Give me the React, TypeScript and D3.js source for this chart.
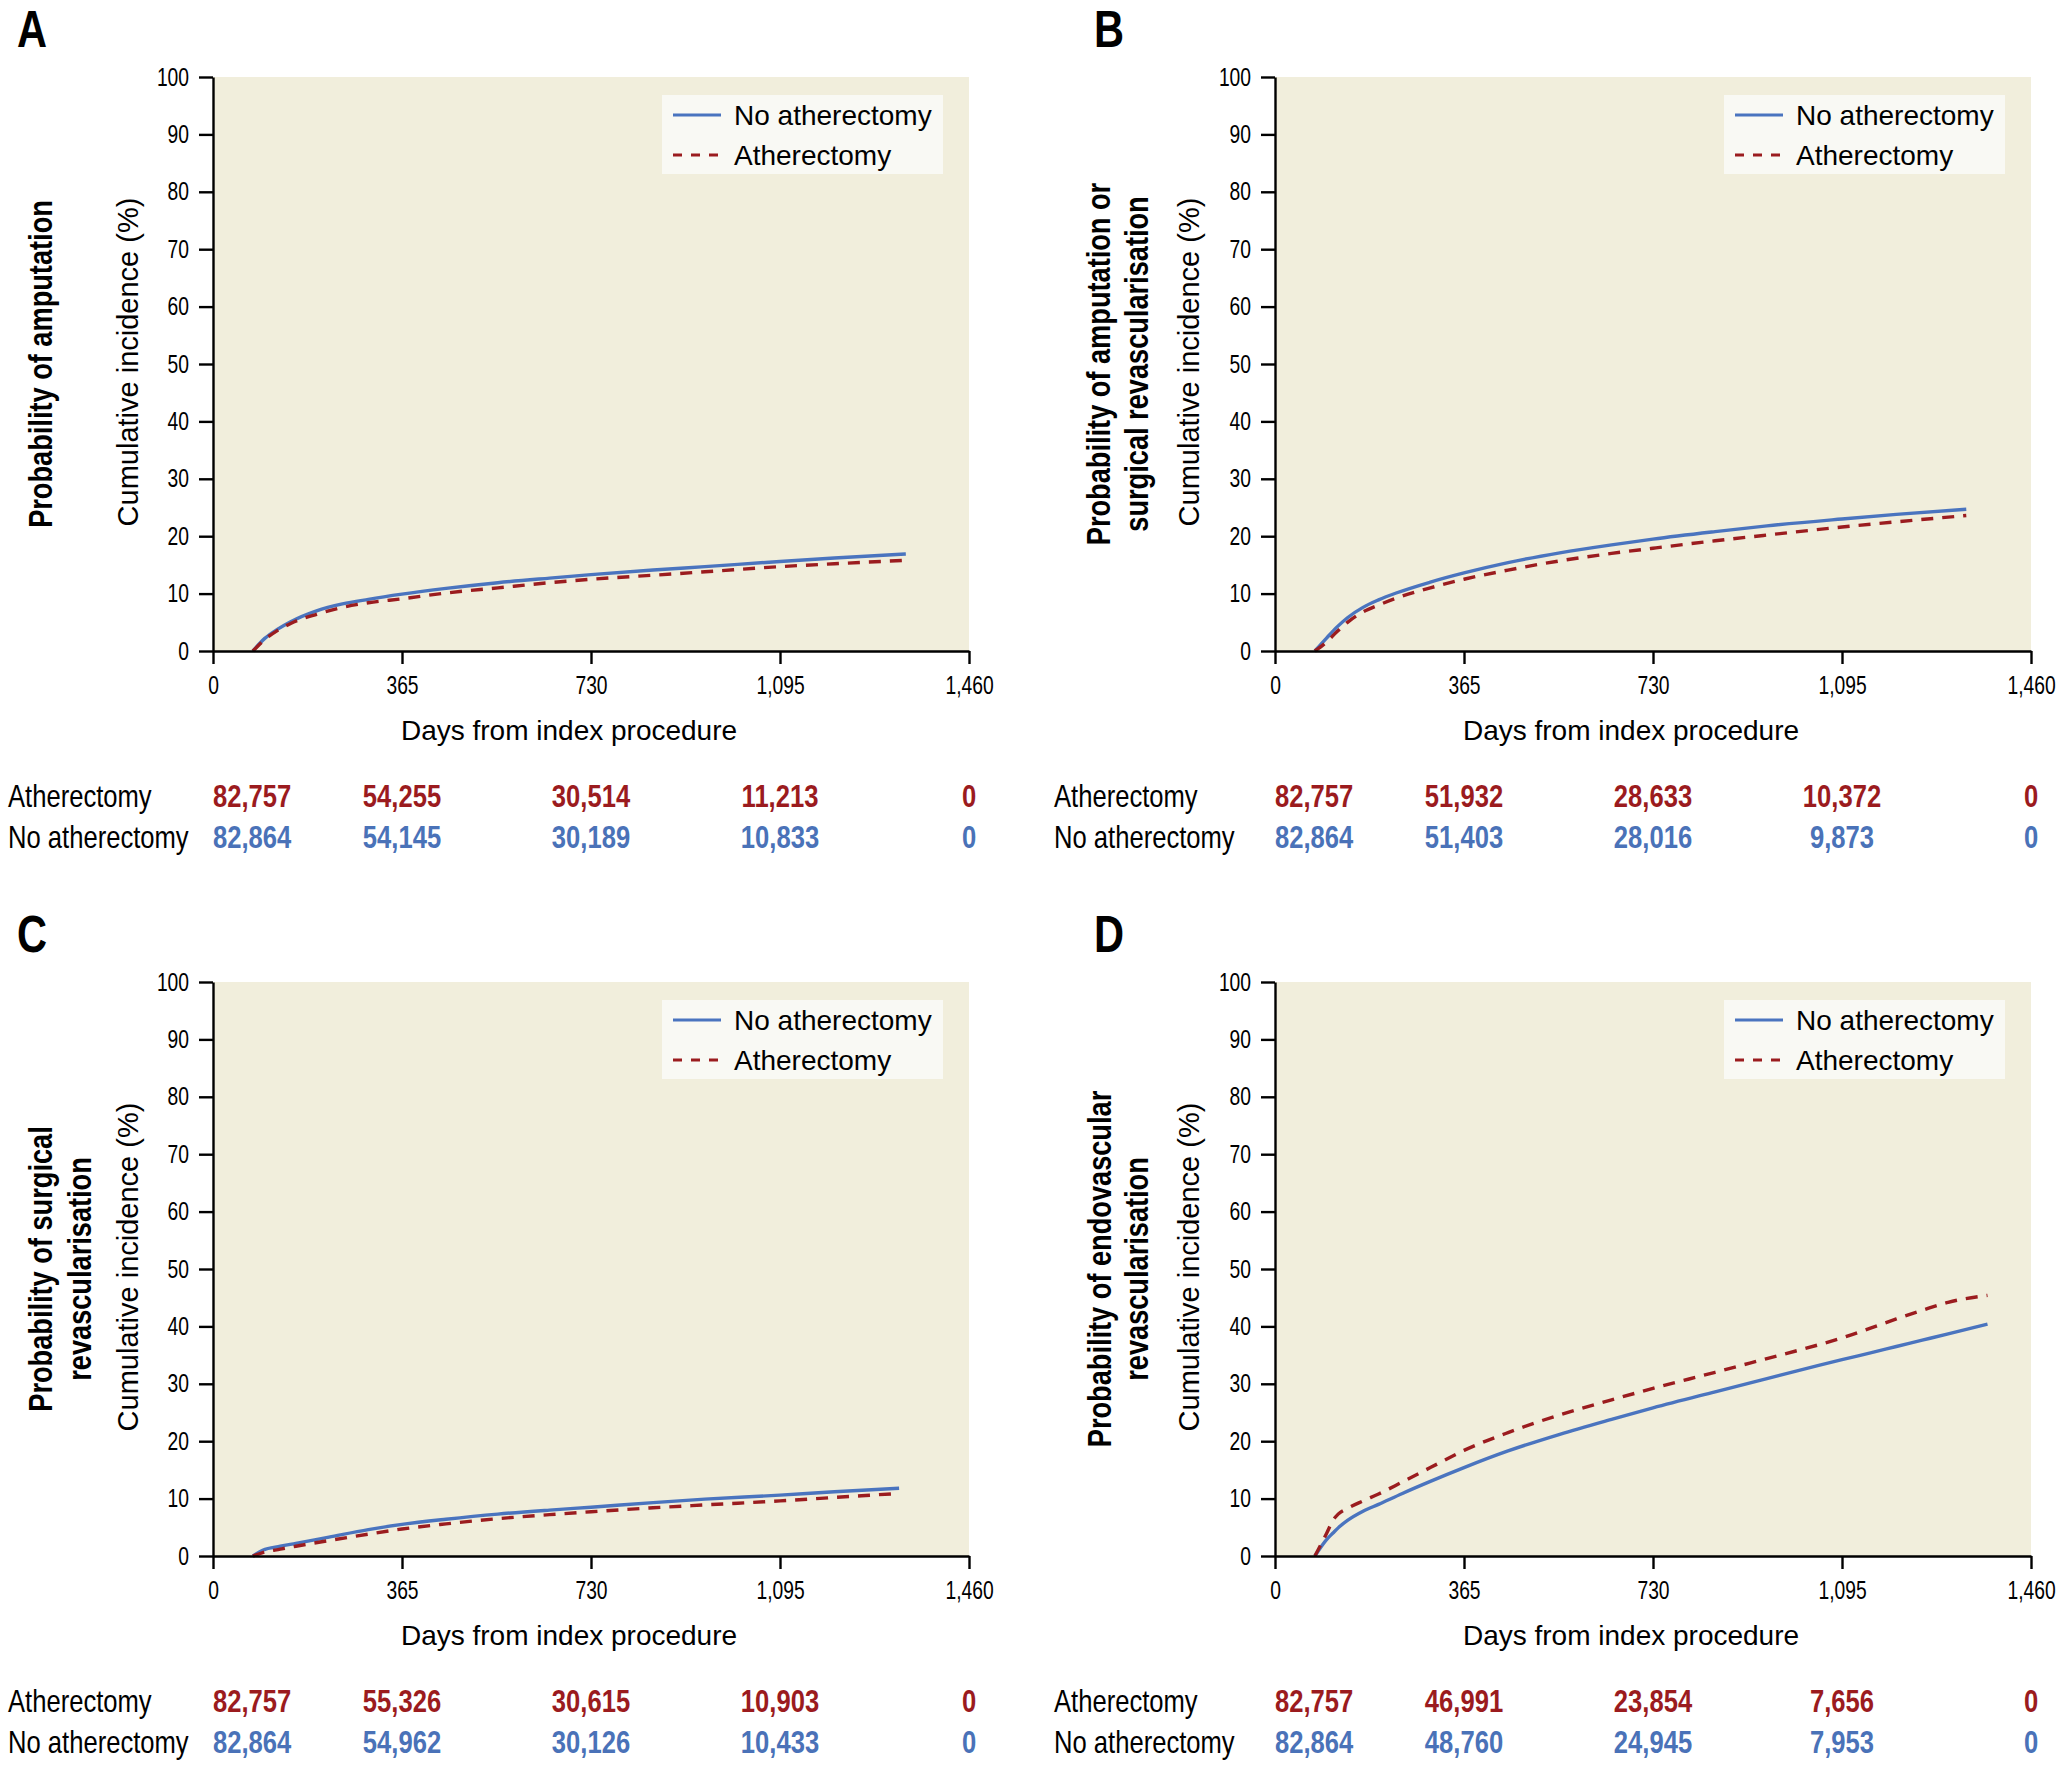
import { useEffect, useRef } from "react";
import * as d3 from "d3";

// axis ticks
const xTicks = [0, 365, 730, 1095, 1460];
const yTicks = [0, 10, 20, 30, 40, 50, 60, 70, 80, 90, 100];
const seriesNames = ["No atherectomy", "Atherectomy"];

// A: amputation
const aDays = [77, 100, 125, 150, 200, 250, 300, 365, 450, 550, 650, 730, 850, 950, 1095, 1200, 1338];
const aNoAth = [0, 2.2, 3.8, 5.1, 7.0, 8.2, 9.0, 9.9, 10.9, 11.9, 12.7, 13.3, 14.1, 14.7, 15.6, 16.2, 16.9];
const aAth = [0, 2.0, 3.6, 4.8, 6.4, 7.6, 8.4, 9.1, 10.1, 11.0, 11.9, 12.5, 13.2, 13.8, 14.7, 15.2, 15.8];
const aRiskAth = ["82,757", "54,255", "30,514", "11,213", "0"];
const aRiskNo = ["82,864", "54,145", "30,189", "10,833", "0"];

// B: amputation or surgical revascularisation
const bDays = [77, 100, 120, 140, 170, 200, 234, 300, 365, 450, 550, 650, 730, 850, 950, 1095, 1200, 1335];
const bNoAth = [0, 2.3, 4.2, 5.8, 7.6, 8.9, 10.1, 12.0, 13.6, 15.4, 17.1, 18.5, 19.5, 20.8, 21.8, 23.0, 23.8, 24.7];
const bAth = [0, 1.6, 3.4, 5.0, 6.8, 8.0, 9.2, 11.0, 12.5, 14.1, 15.7, 17.0, 17.9, 19.2, 20.2, 21.6, 22.5, 23.6];
const bRiskAth = ["82,757", "51,932", "28,633", "10,372", "0"];
const bRiskNo = ["82,864", "51,403", "28,016", "9,873", "0"];

// C: surgical revascularisation
const cDays = [77, 96, 130, 160, 224, 300, 365, 450, 550, 650, 730, 850, 950, 1095, 1200, 1325];
const cNoAth = [0, 1.0, 1.7, 2.2, 3.3, 4.6, 5.5, 6.4, 7.3, 8.0, 8.5, 9.3, 9.9, 10.6, 11.2, 11.8];
const cAth = [0, 0.6, 1.2, 1.7, 2.7, 3.8, 4.7, 5.6, 6.5, 7.2, 7.7, 8.4, 8.9, 9.6, 10.2, 10.9];
const cRiskAth = ["82,757", "55,326", "30,615", "10,903", "0"];
const cRiskNo = ["82,864", "54,962", "30,126", "10,433", "0"];

// D: endovascular revascularisation
const dDays = [77, 100, 112, 122, 140, 170, 200, 246, 300, 365, 450, 550, 650, 730, 850, 950, 1050, 1095, 1150, 1200, 1250, 1300, 1376];
const dNoAth = [0, 2.9, 4.0, 4.9, 6.2, 7.8, 9.0, 10.9, 13.0, 15.4, 18.3, 21.2, 23.8, 25.8, 28.6, 30.9, 33.2, 34.2, 35.4, 36.5, 37.6, 38.7, 40.4];
const dAth = [0, 4.0, 6.2, 7.3, 8.3, 9.6, 10.8, 12.9, 15.4, 18.4, 21.5, 24.6, 27.2, 29.2, 32.0, 34.4, 36.8, 38.0, 39.7, 41.3, 42.8, 44.2, 45.4];
const dRiskAth = ["82,757", "46,991", "23,854", "7,656", "0"];
const dRiskNo = ["82,864", "48,760", "24,945", "7,953", "0"];

const BLUE = "#4a74bf";
const RED = "#9b1c1f";
const NUM_BLUE = "#4a72b8";
const NUM_RED = "#9b1b1e";
const BG = "#f1eedc";
const FONT = "'Liberation Sans', Arial, sans-serif";
const SX = 0.8; // horizontal squeeze that stands in for a narrow face
const TICK_SX = 0.77;

const panels = [
  { id: "A", ox: 0, oy: 0, letterX: 17, titles: ["Probability of amputation"], titleX: [40], yTitleX: 128, labelX: 8,
    days: aDays, noAth: aNoAth, ath: aAth, riskAth: aRiskAth, riskNo: aRiskNo },
  { id: "B", ox: 1062, oy: 0, letterX: 32, titles: ["Probability of amputation or", "surgical revascularisation"], titleX: [36, 74], yTitleX: 127, labelX: -8,
    days: bDays, noAth: bNoAth, ath: bAth, riskAth: bRiskAth, riskNo: bRiskNo },
  { id: "C", ox: 0, oy: 905, letterX: 17, titles: ["Probability of surgical", "revascularisation"], titleX: [40, 79], yTitleX: 128, labelX: 8,
    days: cDays, noAth: cNoAth, ath: cAth, riskAth: cRiskAth, riskNo: cRiskNo },
  { id: "D", ox: 1062, oy: 905, letterX: 32, titles: ["Probability of endovascular", "revascularisation"], titleX: [37, 74], yTitleX: 127, labelX: -8,
    days: dDays, noAth: dNoAth, ath: dAth, riskAth: dRiskAth, riskNo: dRiskNo },
];

// narrow text: squeezed along its own x direction
function ntext(parent: any, x: number, y: number, str: string, size: number, rot = 0) {
  return parent
    .append("text")
    .attr("transform", `translate(${x},${y})${rot ? ` rotate(${rot})` : ""} scale(${SX},1)`)
    .attr("font-family", FONT)
    .attr("font-size", size)
    .text(str);
}

export default function App() {
  const ref = useRef<SVGSVGElement>(null);

  useEffect(() => {
    const svg = d3.select(ref.current);
    svg.selectAll("*").remove();

    const x = d3.scaleLinear().domain([0, 1460]).range([213, 969]);
    const y = d3.scaleLinear().domain([0, 100]).range([651, 77]);

    panels.forEach((p) => {
      const g = svg.append("g").attr("transform", `translate(${p.ox},${p.oy})`);

      g.append("rect")
        .attr("x", x(0))
        .attr("y", y(100))
        .attr("width", x(1460) - x(0))
        .attr("height", y(0) - y(100))
        .attr("fill", BG);

      const line = d3
        .line<number>()
        .x((_, i) => x(p.days[i]))
        .y((d) => y(d))
        .curve(d3.curveMonotoneX);

      g.append("path")
        .attr("d", line(p.noAth))
        .attr("fill", "none")
        .attr("stroke", BLUE)
        .attr("stroke-width", 3.4);
      g.append("path")
        .attr("d", line(p.ath))
        .attr("fill", "none")
        .attr("stroke", RED)
        .attr("stroke-width", 3.4)
        .attr("stroke-dasharray", "12,9");

      // legend
      const lg = g.append("g");
      lg.append("rect")
        .attr("x", 662)
        .attr("y", 95)
        .attr("width", 281)
        .attr("height", 79)
        .attr("fill", "#f9f9f4");
      seriesNames.forEach((name, i) => {
        const ly = 115 + i * 40;
        lg.append("line")
          .attr("x1", 673)
          .attr("x2", 721)
          .attr("y1", ly)
          .attr("y2", ly)
          .attr("stroke", i === 0 ? BLUE : RED)
          .attr("stroke-width", 3)
          .attr("stroke-dasharray", i === 0 ? null : "9,9");
        lg.append("text")
          .attr("x", 734)
          .attr("y", ly + 10)
          .attr("font-family", FONT)
          .attr("font-size", 28)
          .text(name);
      });

      // axes
      const yAxis = g
        .append("g")
        .attr("transform", `translate(${x(0)},0)`)
        .call(d3.axisLeft(y).tickValues(yTicks).tickSize(14).tickSizeOuter(0).tickPadding(10));
      const xAxis = g
        .append("g")
        .attr("transform", `translate(0,${y(0)})`)
        .call(
          d3
            .axisBottom(x)
            .tickValues(xTicks)
            .tickFormat(d3.format(","))
            .tickSize(13)
            .tickSizeOuter(0)
            .tickPadding(12)
        );
      [yAxis, xAxis].forEach((ax) => {
        ax.attr("font-family", FONT).attr("font-size", 25);
        ax.selectAll("path, line").attr("stroke", "#000").attr("stroke-width", 2.4);
        ax.selectAll("text").attr("fill", "#000").attr("transform", `scale(${TICK_SX},1)`);
      });
      yAxis.selectAll("text").attr("x", -24 / TICK_SX);

      // axis titles
      g.append("text")
        .attr("x", 569)
        .attr("y", 740)
        .attr("text-anchor", "middle")
        .attr("font-family", FONT)
        .attr("font-size", 28)
        .text("Days from index procedure");
      g.append("text")
        .attr("transform", `translate(${p.yTitleX},362) rotate(-90)`)
        .attr("text-anchor", "middle")
        .attr("dominant-baseline", "central")
        .attr("font-family", FONT)
        .attr("font-size", 29)
        .text("Cumulative incidence (%)");

      // bold titles
      p.titles.forEach((t, i) => {
        ntext(g, p.titleX[i], 364, t, 34, -90)
          .attr("text-anchor", "middle")
          .attr("dominant-baseline", "central")
          .attr("font-weight", "bold");
      });

      ntext(g, p.letterX, 47, p.id, 52).attr("font-weight", "bold");

      // numbers at risk
      const rows = [
        { label: "Atherectomy", vals: p.riskAth, color: NUM_RED, y: 807 },
        { label: "No atherectomy", vals: p.riskNo, color: NUM_BLUE, y: 848 },
      ];
      rows.forEach((r) => {
        ntext(g, p.labelX, r.y, r.label, 32);
        g.selectAll(null)
          .data(r.vals)
          .enter()
          .append("text")
          .attr("transform", (_, i) => `translate(${x(xTicks[i])},${r.y}) scale(${SX},1)`)
          .attr("text-anchor", (_, i) => (i === 0 ? "start" : "middle"))
          .attr("font-family", FONT)
          .attr("font-weight", "bold")
          .attr("font-size", 32)
          .attr("fill", r.color)
          .text((d) => d);
      });
    });
  }, []);

  return (
    <svg
      ref={ref}
      width={2067}
      height={1772}
      style={{ position: "absolute", left: 0, top: 0, background: "#fff" }}
    ></svg>
  );
}
